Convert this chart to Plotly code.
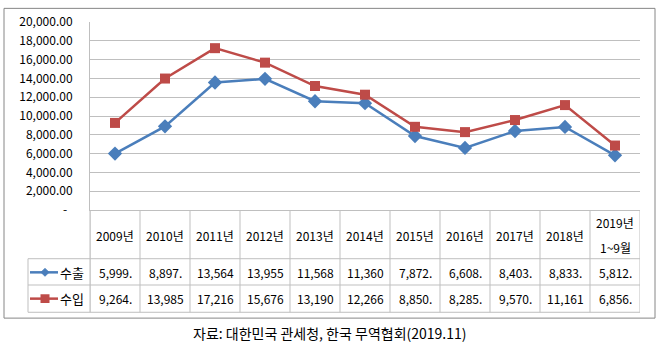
import plotly.graph_objects as go

categories = ["2009년", "2010년", "2011년", "2012년", "2013년", "2014년",
              "2015년", "2016년", "2017년", "2018년", "2019년<br>1~9월"]
export_vals = [5999, 8897, 13564, 13955, 11568, 11360, 7872, 6608, 8403, 8833, 5812]
import_vals = [9264, 13985, 17216, 15676, 13190, 12266, 8850, 8285, 9570, 11161, 6856]
series_names = ["수출", "수입"]
y_ticks = [0, 2000, 4000, 6000, 8000, 10000, 12000, 14000, 16000, 18000, 20000]
caption = "자료: 대한민국 관세청, 한국 무역협회(2019.11)"

BLUE = "#4A7EBB"
RED = "#BE4B48"
GRID = "#BFBFBF"
FONT = "Noto Sans CJK KR"
TS = 12

W, H = 663, 351
L, R, T, B = 90, 640, 17, 210  # plot area pixels


def px(x):
    return (x - L) / (R - L)


def py(y):
    return (B - y) / (B - T)


def fmt_cell(v):
    return f"{v:,.2f}"[:6]


x_idx = list(range(len(categories)))

fig = go.Figure()
fig.add_trace(go.Scatter(x=x_idx, y=export_vals, mode="lines+markers", name=series_names[0],
                         line=dict(color=BLUE, width=2.5),
                         marker=dict(symbol="diamond", size=11, color=BLUE)))
fig.add_trace(go.Scatter(x=x_idx, y=import_vals, mode="lines+markers", name=series_names[1],
                         line=dict(color=RED, width=2.5),
                         marker=dict(symbol="square", size=10, color=RED)))

shapes = []
annotations = []
# table vertical lines
for i in range(len(categories) + 1):
    shapes.append(dict(type="line", xref="x", yref="paper", x0=i - 0.5, x1=i - 0.5,
                       y0=py(210), y1=py(315), line=dict(color=GRID, width=1)))
# table horizontal lines
for yy in [260, 287, 315]:
    shapes.append(dict(type="line", xref="paper", yref="paper", x0=px(28), x1=px(640),
                       y0=py(yy), y1=py(yy), line=dict(color=GRID, width=1)))
shapes.append(dict(type="line", xref="paper", yref="paper", x0=px(28), x1=px(28),
                   y0=py(260), y1=py(315), line=dict(color=GRID, width=1)))
shapes.append(dict(type="line", xref="paper", yref="paper", x0=px(90), x1=px(90),
                   y0=py(210), y1=py(315), line=dict(color=GRID, width=1)))
# outer border
shapes.append(dict(type="rect", xref="paper", yref="paper", x0=px(4), x1=px(655),
                   y0=py(321), y1=py(3), line=dict(color="#868686", width=1)))

# legend keys in table
row_y = [274, 301]
colors = [BLUE, RED]
for k, (yy, c) in enumerate(zip(row_y, colors)):
    shapes.append(dict(type="line", xref="paper", yref="paper", x0=px(30), x1=px(58),
                       y0=py(yy), y1=py(yy), line=dict(color=c, width=2.5)))
    if k == 0:
        d = 4
        path = (f"M {px(45 - d)} {py(yy)} L {px(45)} {py(yy - d)} "
                f"L {px(45 + d)} {py(yy)} L {px(45)} {py(yy + d)} Z")
        shapes.append(dict(type="path", xref="paper", yref="paper", path=path,
                           fillcolor=c, line=dict(color=c, width=1)))
    else:
        d = 4.5
        shapes.append(dict(type="rect", xref="paper", yref="paper", x0=px(45 - d), x1=px(45 + d),
                           y0=py(yy + d), y1=py(yy - d), fillcolor=c, line=dict(color=c, width=0)))
    annotations.append(dict(xref="paper", yref="paper", x=px(72), y=py(yy), text=series_names[k],
                            showarrow=False, xanchor="center", yanchor="middle",
                            font=dict(size=13, color="#000000", family=FONT)))

# header and values
for i, cat in enumerate(categories):
    parts = cat.split("<br>")
    if len(parts) == 1:
        annotations.append(dict(xref="x", yref="paper", x=i, y=py(236), text=cat, showarrow=False,
                                xanchor="center", yanchor="middle",
                                font=dict(size=TS, color="#000000", family=FONT)))
    else:
        for part, yy in zip(parts, [223, 248]):
            annotations.append(dict(xref="x", yref="paper", x=i, y=py(yy), text=part,
                                    showarrow=False, xanchor="center", yanchor="middle",
                                    font=dict(size=TS, color="#000000", family=FONT)))
    annotations.append(dict(xref="x", yref="paper", x=i, y=py(274), text=fmt_cell(export_vals[i]),
                            showarrow=False, xanchor="center", yanchor="middle",
                            font=dict(size=TS, color="#000000", family=FONT)))
    annotations.append(dict(xref="x", yref="paper", x=i, y=py(301), text=fmt_cell(import_vals[i]),
                            showarrow=False, xanchor="center", yanchor="middle",
                            font=dict(size=TS, color="#000000", family=FONT)))

annotations.append(dict(xref="paper", yref="paper", x=px(330), y=py(336), text=caption,
                        showarrow=False, xanchor="center", yanchor="middle",
                        font=dict(size=14, color="#000000", family=FONT)))

fig.update_layout(
    width=W, height=H,
    margin=dict(l=L, r=W - R, t=T, b=H - B, pad=0),
    paper_bgcolor="white", plot_bgcolor="white",
    showlegend=False,
    font=dict(family=FONT, size=12, color="#000000"),
    shapes=shapes, annotations=annotations,
    xaxis=dict(range=[-0.5, len(categories) - 0.5], showticklabels=False, showgrid=False,
               zeroline=False, showline=True, linecolor=GRID, linewidth=1, ticks="",
               fixedrange=True),
    yaxis=dict(range=[0, 20000], tickvals=y_ticks,
               ticktext=["-  " if v == 0 else f"{v:,.2f}" for v in y_ticks],
               showgrid=True, gridcolor=GRID, gridwidth=1, zeroline=False,
               showline=True, linecolor=GRID, linewidth=1,
               ticks="outside", ticklen=14, tickcolor="rgba(0,0,0,0)",
               tickfont=dict(size=12, family=FONT, color="#000000"), fixedrange=True),
)

fig.write_html("out.html")
